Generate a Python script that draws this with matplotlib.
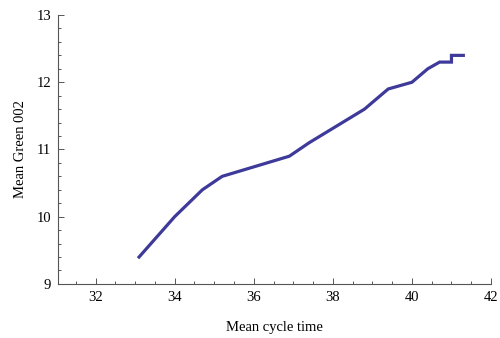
import numpy as np
import matplotlib.pyplot as plt
from matplotlib.ticker import MultipleLocator

# mean cycle time vs mean green value
cycle_time = [33.1, 34.0, 34.7, 35.2, 36.9, 37.4, 38.8, 39.4, 40.0, 40.4, 40.7, 41.0, 41.0, 41.3]
green_002 = [9.4, 10.0, 10.4, 10.6, 10.9, 11.1, 11.6, 11.9, 12.0, 12.2, 12.3, 12.3, 12.4, 12.4]

plt.rcParams['font.family'] = ['Liberation Serif', 'DejaVu Serif']

fig = plt.figure(figsize=(5, 3.38), dpi=100)
ax = fig.add_axes([0.116, 0.160, 0.866, 0.7955])

ax.plot(cycle_time, green_002, color='#3e3a9a', lw=2.3, solid_joinstyle='miter')

ax.set_xlim(31.05, 42)
ax.set_ylim(9, 13)
ax.xaxis.set_major_locator(MultipleLocator(2))
ax.xaxis.set_minor_locator(MultipleLocator(0.5))
ax.yaxis.set_major_locator(MultipleLocator(1))
ax.yaxis.set_minor_locator(MultipleLocator(0.2))

for s in ['top', 'right']:
    ax.spines[s].set_visible(False)
for s in ['left', 'bottom']:
    ax.spines[s].set_color('#555555')
    ax.spines[s].set_linewidth(0.8)

ax.tick_params(which='both', direction='in', color='#555555', labelsize=10.5, width=0.7)
ax.tick_params(which='major', length=4, pad=5)
ax.tick_params(which='minor', length=2.5)

ax.set_xlabel('Mean cycle time', fontsize=10.5, labelpad=12)
ax.set_ylabel('Mean Green 002', fontsize=10.5, labelpad=7)

fig.savefig('out.png', dpi=100)
